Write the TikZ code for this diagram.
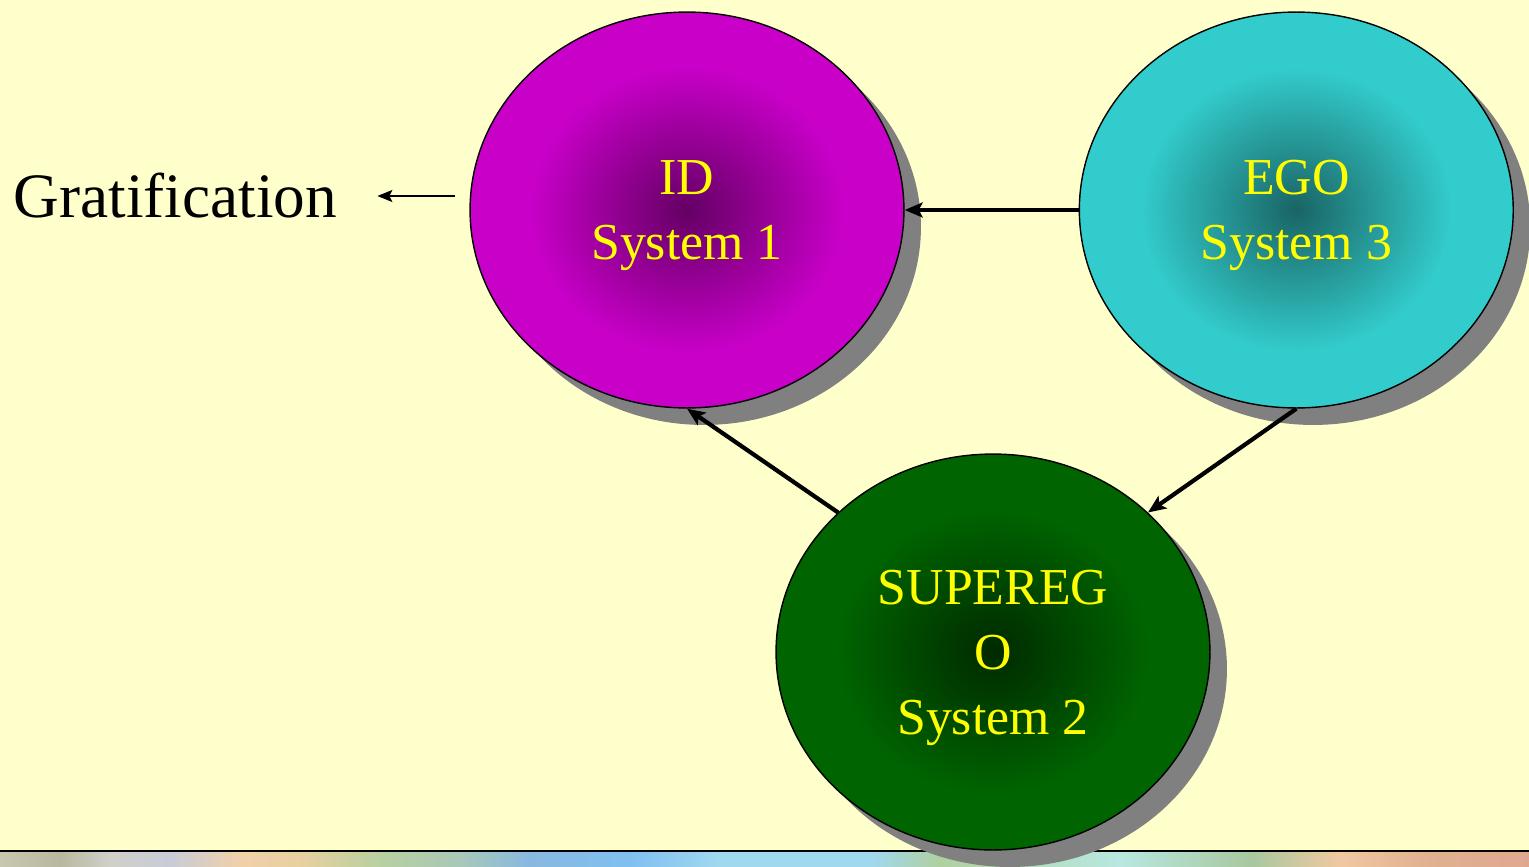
\documentclass[tikz,border=0pt]{standalone}
\usepackage{fontspec}
\setmainfont{Liberation Serif}
\usepackage{tikz}
\usetikzlibrary{positioning}
\usetikzlibrary{shapes.geometric}
\usetikzlibrary{shadows}
\usetikzlibrary{arrows.meta}
\definecolor{paper}{HTML}{FFFFCC}
\definecolor{label}{HTML}{FFFF00}
\definecolor{idrim}{HTML}{C800C8}
\definecolor{idcore}{HTML}{640064}
\definecolor{egorim}{HTML}{33CCCC}
\definecolor{egocore}{HTML}{1A6464}
\definecolor{superrim}{HTML}{006400}
\definecolor{supercore}{HTML}{002A00}
\pgfdeclareradialshading{idshade}{\pgfpoint{0bp}{0bp}}{color(0bp)=(idcore); color(18bp)=(idrim); color(25bp)=(idrim); color(50bp)=(idrim)}
\pgfdeclareradialshading{egoshade}{\pgfpoint{0bp}{0bp}}{color(0bp)=(egocore); color(18bp)=(egorim); color(25bp)=(egorim); color(50bp)=(egorim)}
\pgfdeclareradialshading{supershade}{\pgfpoint{0bp}{0bp}}{color(0bp)=(supercore); color(18bp)=(superrim); color(25bp)=(superrim); color(50bp)=(superrim)}
\tikzset{psyche/.style={ellipse, draw=black, line width=0.8pt, minimum width=8.68cm, minimum height=7.92cm, inner sep=0pt, align=center, text=label, font=\fontsize{29.5}{37}\selectfont, text depth=-1.5pt, drop shadow={shadow xshift=0.34cm, shadow yshift=-0.34cm, fill=black!50, opacity=1}}}
\tikzset{bigarrow/.style={line width=2.4pt, -{Stealth[length=0.36cm, width=0.3cm, inset=0.08cm]}}}
\tikzset{smallarrow/.style={line width=1.2pt, -{Stealth[length=0.3cm, width=0.24cm, inset=0.06cm]}}}

\begin{document}
\begin{tikzpicture}[x=0.02cm, y=-0.02cm]
            \useasboundingbox (0,0) rectangle (1529,866);
            \fill[paper] (0,0) rectangle (1529,866);
            % coloured strip along the bottom edge
            \fill[black] (0,849.5) rectangle (1529,852);
            \foreach \xa/\ca/\xb/\cb in {0/C8C8B0/60/B8B8A0, 60/B8B8A0/110/D0D0C8, 110/D0D0C8/170/C8CCD8, 170/C8CCD8/240/F0D0A8, 240/F0D0A8/300/E8D0A0, 300/E8D0A0/380/B8D0A0, 380/B8D0A0/460/A8C8B8, 460/A8C8B8/530/88B8E0, 530/88B8E0/630/80C0F0, 630/80C0F0/720/A0D8F0, 720/A0D8F0/870/A0D8F0, 870/A0D8F0/940/B0D0A0, 940/B0D0A0/1120/B8E8E0, 1120/B8E8E0/1250/A8C8A0, 1250/A8C8A0/1340/F0C8A0, 1340/F0C8A0/1430/E0B090, 1430/E0B090/1529/E0A890}
            {
                \definecolor{stripl}{HTML}{\ca}
                \definecolor{stripr}{HTML}{\cb}
                \shade[left color=stripl, right color=stripr] (\xa,852) rectangle (\xb,866);
            }

            \node (id) [psyche, shading=idshade] at (687,210) {ID\\System 1};
            \node (ego) [psyche, shading=egoshade, right=3.48cm of id] {EGO\\System 3};
            \node (superego) [psyche, shading=supershade] at (993,652) {SUPEREG\\O\\System 2};
            \node (grat) [left=2.64cm of id, yshift=0.28cm, inner sep=0pt, font=\fontsize{36}{43}\selectfont] {Gratification};

            \coordinate (idleft) at ([xshift=-0.28cm]id.west);
            \coordinate (gtail) at (idleft |- grat.east);

            \draw[bigarrow] (ego.west) -- (id.east);
            \draw[bigarrow] (superego.138) -- (id.south);
            \draw[bigarrow] (ego.south) -- (superego.42);
            \draw[smallarrow, shorten >=0.8cm] (gtail) -- (grat.east);
        \end{tikzpicture}
\end{document}
